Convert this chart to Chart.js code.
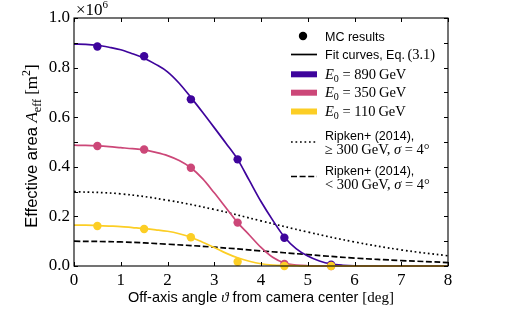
<!DOCTYPE html>
<html>
<head>
<meta charset="utf-8">
<script src="https://cdn.jsdelivr.net/npm/chart.js@4.4.1/dist/chart.umd.min.js"></script>
<style>
  html, body { margin: 0; padding: 0; background: #fff; }
  canvas { display: block; }
</style>
</head>
<body>
<canvas id="aeffChart" width="523" height="310"></canvas>
<script>
// MC-Punkte (Effektive Fläche in m²)
const mcAngles = [0.5, 1.5, 2.5, 3.5, 4.5, 5.5];
const mc890 = [885000, 846000, 672000, 430000, 114000, 5000];
const mc350 = [484000, 470000, 396000, 175000, 8000, 0];
const mc110 = [161000, 149000, 116000, 17000, 0, 0];

// Fit-Kurven
const fitAngles = [0, 0.25, 0.5, 0.75, 1, 1.25, 1.5, 1.75, 2, 2.25, 2.5, 2.75, 3, 3.25,
  3.5, 3.75, 4, 4.25, 4.5, 4.75, 5, 5.25, 5.5, 5.75, 6, 7, 8];
const fit890 = [895000, 894000, 890000, 882000, 872000, 856000, 838000, 813000, 783000, 737000,
  680000, 620000, 558000, 495000, 430000, 345000, 260000, 185000, 117000, 70000,
  40000, 20000, 8000, 3000, 1000, 0, 0];
const fit350 = [487000, 486000, 484000, 481000, 477000, 473000, 468000, 458000, 445000, 425000,
  396000, 352000, 295000, 235000, 175000, 125000, 75000, 35000, 12000, 4000,
  1000, 0, 0, 0, 0, 0, 0];
const fit110 = [165000, 165000, 163000, 161000, 159000, 155000, 151000, 146000, 140000, 130000,
  116000, 96000, 75000, 52000, 33000, 19000, 9000, 4000, 2000, 1000,
  0, 0, 0, 0, 0, 0, 0];

// Ripken+ (2014), sigma = 4 deg
const ripkenAngles = [0, 1, 2, 3, 4, 5, 6, 7, 8];
const ripkenHigh = [300000, 291000, 265000, 228000, 182000, 137000, 97000, 65000, 41000];
const ripkenLow = [100000, 97000, 88000, 76000, 61000, 46000, 32000, 22000, 14000];

const xTicks = [0, 1, 2, 3, 4, 5, 6, 7, 8];

const C890 = '#3e049c';
const C350 = '#cc4778';
const C110 = '#fcce25';

const SERIF = '"Liberation Serif", "DejaVu Serif", serif';
const SANS = '"Liberation Sans", "DejaVu Sans", sans-serif';

function pts(xs, ys) {
  return xs.map((x, i) => ({ x: x, y: ys[i] }));
}

function curve(xs, ys, color, order) {
  return {
    data: pts(xs, ys), showLine: true, borderColor: color, borderWidth: 1.7,
    pointRadius: 0, cubicInterpolationMode: 'monotone', clip: false, order: order
  };
}

function markers(ys, color, order) {
  return {
    data: pts(mcAngles, ys), showLine: false, pointRadius: 4.2, pointBorderWidth: 0,
    pointBackgroundColor: color, backgroundColor: color, clip: false, order: order
  };
}

// Text aus Teilstücken mit verschiedenen Schriften zeichnen
function richWidth(ctx, segs) {
  let w = 0;
  segs.forEach(s => { ctx.font = s.f; w += ctx.measureText(s.t).width; });
  return w;
}
function drawRich(ctx, x, y, segs) {
  ctx.textBaseline = 'alphabetic';
  ctx.textAlign = 'left';
  segs.forEach(s => {
    ctx.font = s.f;
    ctx.fillText(s.t, x, y + (s.dy || 0));
    x += ctx.measureText(s.t).width;
  });
}

function energyLabel(val) {
  return [
    { t: 'E', f: 'italic 14.5px ' + SERIF },
    { t: '0', f: '10px ' + SERIF, dy: 3 },
    { t: ' = ' + val + '\u2009GeV', f: '14.5px ' + SERIF }
  ];
}

const overlay = {
  id: 'overlay',
  afterDatasetsDraw(chart) {
    const ctx = chart.ctx;
    const a = chart.chartArea;
    const xs = chart.scales.x, ys = chart.scales.y;
    ctx.save();
    ctx.strokeStyle = '#000';
    ctx.lineWidth = 1.1;
    ctx.strokeRect(a.left, a.top, a.right - a.left, a.bottom - a.top);
    ctx.lineWidth = 1;
    ctx.beginPath();
    xTicks.forEach(v => {
      const px = Math.round(xs.getPixelForValue(v)) + 0.5;
      ctx.moveTo(px, a.bottom); ctx.lineTo(px, a.bottom - 4);
      ctx.moveTo(px, a.top); ctx.lineTo(px, a.top + 4);
    });
    for (let v = 0; v <= 1000000; v += 100000) {
      const py = Math.round(ys.getPixelForValue(v)) + 0.5;
      ctx.moveTo(a.left, py); ctx.lineTo(a.left + 4, py);
      ctx.moveTo(a.right, py); ctx.lineTo(a.right - 4, py);
    }
    ctx.stroke();
    ctx.restore();
  },
  afterDraw(chart) {
    const ctx = chart.ctx;
    const a = chart.chartArea;
    ctx.save();
    ctx.fillStyle = '#000';

    // Faktor oben links
    drawRich(ctx, a.left + 2, 15, [
      { t: '\u00d710', f: '17px ' + SERIF },
      { t: '6', f: '11px ' + SERIF, dy: -7 }
    ]);

    // x-Achsentitel
    const xt = [
      { t: 'Off-axis angle ', f: '14.5px ' + SANS },
      { t: '\u03d1', f: 'italic 15px ' + SERIF },
      { t: ' from camera center ', f: '14.5px ' + SANS },
      { t: '[deg]', f: '15px ' + SERIF }
    ];
    const xw = richWidth(ctx, xt);
    drawRich(ctx, (a.left + a.right) / 2 - xw / 2, 302, xt);

    // y-Achsentitel (gedreht)
    const yt = [
      { t: 'Effective area ', f: '16.5px ' + SANS },
      { t: 'A', f: 'italic 17px ' + SERIF },
      { t: 'eff', f: '12px ' + SERIF, dy: 3.5 },
      { t: ' [m', f: '17px ' + SERIF },
      { t: '2', f: '12px ' + SERIF, dy: -7 },
      { t: ']', f: '17px ' + SERIF }
    ];
    const yw = richWidth(ctx, yt);
    ctx.save();
    ctx.translate(37, (a.top + a.bottom) / 2 + 4);
    ctx.rotate(-Math.PI / 2);
    drawRich(ctx, -yw / 2, 0, yt);
    ctx.restore();

    // Legende
    const lx0 = 291, lx1 = 317, tx = 325;
    ctx.beginPath();
    ctx.arc(303, 36, 4.2, 0, Math.PI * 2);
    ctx.fill();
    drawRich(ctx, tx, 40.5, [{ t: 'MC results', f: '12.5px ' + SANS }]);

    ctx.strokeStyle = '#000';
    ctx.lineWidth = 1.7;
    ctx.beginPath(); ctx.moveTo(lx0, 54.5); ctx.lineTo(lx1, 54.5); ctx.stroke();
    drawRich(ctx, tx, 59, [
      { t: 'Fit curves, Eq.\u2009', f: '12.5px ' + SANS },
      { t: '(3.1)', f: '14.5px ' + SERIF }
    ]);

    [[C890, '890', 74.3], [C350, '350', 92.7], [C110, '110', 111.5]].forEach(e => {
      ctx.fillStyle = e[0];
      ctx.fillRect(lx0, e[2] - 3, lx1 - lx0, 6);
      ctx.fillStyle = '#000';
      drawRich(ctx, tx, e[2] + 4.5, energyLabel(e[1]));
    });

    ctx.lineWidth = 1.7;
    ctx.setLineDash([1.7, 2.8]);
    ctx.beginPath(); ctx.moveTo(lx0, 142); ctx.lineTo(lx1, 142); ctx.stroke();
    ctx.setLineDash([6, 2.6]);
    ctx.beginPath(); ctx.moveTo(lx0, 176.5); ctx.lineTo(lx1, 176.5); ctx.stroke();
    ctx.setLineDash([]);

    drawRich(ctx, tx, 139.5, [{ t: 'Ripken+ (2014),', f: '12.5px ' + SANS }]);
    drawRich(ctx, tx, 153.5, [
      { t: '\u2265 300\u2009GeV, ', f: '14.5px ' + SERIF },
      { t: '\u03c3', f: 'italic 14.5px ' + SERIF },
      { t: ' = 4\u00b0', f: '14.5px ' + SERIF }
    ]);
    drawRich(ctx, tx, 175, [{ t: 'Ripken+ (2014),', f: '12.5px ' + SANS }]);
    drawRich(ctx, tx, 188.5, [
      { t: '< 300\u2009GeV, ', f: '14.5px ' + SERIF },
      { t: '\u03c3', f: 'italic 14.5px ' + SERIF },
      { t: ' = 4\u00b0', f: '14.5px ' + SERIF }
    ]);
    ctx.restore();
  }
};

const ctx = document.getElementById('aeffChart').getContext('2d');
new Chart(ctx, {
  type: 'scatter',
  data: {
    datasets: [
      Object.assign(curve(ripkenAngles, ripkenHigh, '#000', 12), { borderDash: [1.7, 2.8], cubicInterpolationMode: 'default', tension: 0.4 }),
      Object.assign(curve(ripkenAngles, ripkenLow, '#000', 11), { borderDash: [6, 2.6], cubicInterpolationMode: 'default', tension: 0.4 }),
      curve(fitAngles, fit890, C890, 6),
      markers(mc890, C890, 5),
      curve(fitAngles, fit350, C350, 4),
      markers(mc350, C350, 3),
      curve(fitAngles, fit110, C110, 2),
      markers(mc110, C110, 1)
    ]
  },
  options: {
    responsive: false,
    animation: false,
    events: [],
    layout: { padding: { top: 18, right: 75, left: 0, bottom: 0 } },
    plugins: { legend: { display: false }, tooltip: { enabled: false } },
    scales: {
      x: {
        type: 'linear', min: 0, max: 8,
        grid: { display: false, drawTicks: false },
        border: { display: false },
        ticks: {
          stepSize: 1, padding: 4, color: '#000',
          font: { family: SERIF, size: 17 }
        },
        afterFit(scale) { scale.height = 44; }
      },
      y: {
        min: 0, max: 1000000,
        grid: { display: false, drawTicks: false },
        border: { display: false },
        ticks: {
          stepSize: 100000, padding: 4, color: '#000',
          font: { family: SERIF, size: 17 },
          callback: v => (Math.round(v / 100000) % 2 === 0 ? (v / 1000000).toFixed(1) : '')
        },
        afterFit(scale) { scale.width = 74; }
      }
    }
  },
  plugins: [overlay]
});
</script>
</body>
</html>
